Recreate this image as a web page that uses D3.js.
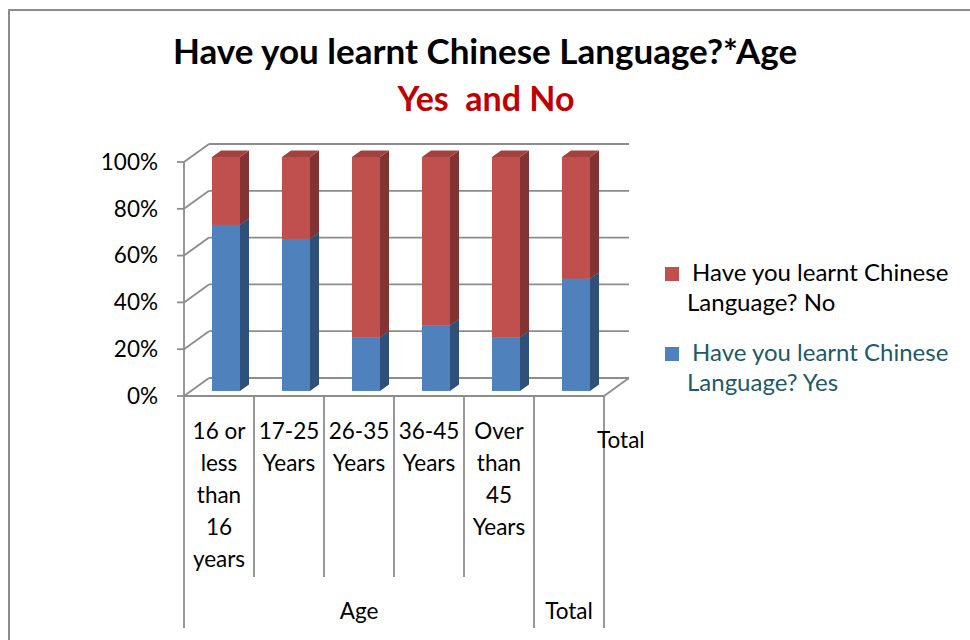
<!DOCTYPE html>
<html>
<head>
<meta charset="utf-8">
<script src="https://cdn.jsdelivr.net/npm/d3@7"></script>
<style>
  html, body { margin: 0; padding: 0; background: #ffffff; }
  svg { display: block; font-family: Lato, "Open Sans", sans-serif; }
</style>
</head>
<body>
<svg id="chart" width="970" height="640"></svg>
<script>
// Categories (lines of each wrapped label) and their group
const categories = ["16 or less than 16 years", "17-25 Years", "26-35 Years", "36-45 Years", "Over than 45 Years", "Total"];
const categoryLines = [["16 or", "less", "than", "16", "years"], ["17-25", "Years"], ["26-35", "Years"], ["36-45", "Years"], ["Over", "than", "45", "Years"], []];
const groups = [{ name: "Age", from: 0, to: 4 }, { name: "Total", from: 5, to: 5 }];

// Percent of respondents per age group
const yesValues = [71, 65, 23, 28, 23, 48];
const noValues = [29, 35, 77, 72, 77, 52];
const seriesNames = ["Have you learnt Chinese Language? Yes", "Have you learnt Chinese Language? No"];
const tickValues = [0, 20, 40, 60, 80, 100];

const svg = d3.select("#chart");
const FS = 22.5;   // axis and category label size
const LFS = 24;    // legend label size

// Outer frame
svg.append("rect").attr("x", 9).attr("y", 10).attr("width", 980).attr("height", 660)
  .attr("fill", "none").attr("stroke", "#8c8c8c").attr("stroke-width", 2);

// Titles
svg.append("text").attr("x", 485).attr("y", 64).attr("text-anchor", "middle")
  .attr("font-weight", "bold").attr("font-size", 35).attr("fill", "#000")
  .text("Have you learnt Chinese Language?*Age");
svg.append("text").attr("x", 486).attr("y", 111).attr("text-anchor", "middle")
  .attr("font-weight", "bold").attr("font-size", 34).attr("fill", "#c00000")
  .style("white-space", "pre").attr("xml:space", "preserve")
  .text("Yes  and No");

// Scales
const x = d3.scaleBand().domain(d3.range(categories.length)).range([184, 604]);
const y = d3.scaleLinear().domain([0, 100]).range([396, 162]);
const DX = 25, DY = -18;             // full depth offset of the 3D floor/walls
const dFront = 0.28, dBack = 0.64;   // bar depth span (fraction of full depth)
const barW = 28;
const grid = "#8c8c8c";

const P = (px, py, d) => [px + DX * d, py + DY * d];
const poly = pts => pts.map(p => p.join(",")).join(" ");

const g = svg.append("g");

// Back wall gridlines and left wall diagonals
tickValues.forEach(t => {
  const yy = y(t);
  const b0 = P(x.range()[0], yy, 1), b1 = P(x.range()[1], yy, 1);
  g.append("line").attr("x1", b0[0]).attr("y1", b0[1]).attr("x2", b1[0]).attr("y2", b1[1])
    .attr("stroke", grid).attr("stroke-width", 1.8);
  g.append("line").attr("x1", x.range()[0]).attr("y1", yy).attr("x2", b0[0]).attr("y2", b0[1])
    .attr("stroke", grid).attr("stroke-width", 1.8);
  g.append("line").attr("x1", x.range()[0] - 7).attr("y1", yy).attr("x2", x.range()[0]).attr("y2", yy)
    .attr("stroke", grid).attr("stroke-width", 1.8);
  g.append("text").attr("x", 158).attr("y", yy + 2).attr("text-anchor", "end")
    .attr("dominant-baseline", "middle").attr("font-size", FS).attr("fill", "#000")
    .text(t + "%");
});

// Floor right edge and vertical axis
{
  const fr = [x.range()[1], y(0)], br = P(x.range()[1], y(0), 1);
  g.append("line").attr("x1", fr[0]).attr("y1", fr[1]).attr("x2", br[0]).attr("y2", br[1])
    .attr("stroke", grid).attr("stroke-width", 1.8);
  g.append("line").attr("x1", x.range()[0]).attr("y1", y(100)).attr("x2", x.range()[0]).attr("y2", y(0))
    .attr("stroke", grid).attr("stroke-width", 1.8);
}

// Stacked 3D bars
const colors = {
  yes: { front: "#4f81bd", side: "#2f5078", top: "#3e6699" },
  no: { front: "#c0504d", side: "#833432", top: "#a3413e" }
};
const stacks = categories.map((c, i) => [
  { key: "yes", lo: 0, hi: yesValues[i] },
  { key: "no", lo: yesValues[i], hi: yesValues[i] + noValues[i] }
]);

stacks.forEach((segs, i) => {
  const cx = x(i) + x.bandwidth() / 2;
  const x0 = cx - barW / 2, x1 = cx + barW / 2;
  segs.forEach(s => {
    const c = colors[s.key];
    const yl = y(s.lo), yh = y(s.hi);
    // side face
    g.append("polygon").attr("fill", c.side).attr("points", poly([
      P(x1, yl, dFront), P(x1, yl, dBack), P(x1, yh, dBack), P(x1, yh, dFront)]));
    // top face
    g.append("polygon").attr("fill", c.top).attr("points", poly([
      P(x0, yh, dFront), P(x1, yh, dFront), P(x1, yh, dBack), P(x0, yh, dBack)]));
    // front face
    const f = P(x0, yh, dFront);
    g.append("rect").attr("x", f[0]).attr("y", f[1]).attr("width", barW).attr("height", yl - yh)
      .attr("fill", c.front);
  });
});

// Floor front edge (category axis) and category dividers
g.append("line").attr("x1", x.range()[0]).attr("y1", y(0)).attr("x2", x.range()[1]).attr("y2", y(0))
  .attr("stroke", grid).attr("stroke-width", 1.8);

const levelTop = y(0), level1 = 577, level2 = 628;
const groupEdges = new Set();
groups.forEach(gr => { groupEdges.add(gr.from); groupEdges.add(gr.to + 1); });
d3.range(categories.length + 1).forEach(k => {
  const xx = k < categories.length ? x(k) : x.range()[1];
  g.append("line").attr("x1", xx).attr("y1", levelTop).attr("x2", xx)
    .attr("y2", groupEdges.has(k) ? level2 : level1)
    .attr("stroke", grid).attr("stroke-width", 1.8);
});

// Category labels
categoryLines.forEach((lines, i) => {
  const cx = x(i) + x.bandwidth() / 2;
  lines.forEach((ln, j) => {
    g.append("text").attr("x", cx).attr("y", 433 + j * 32).attr("text-anchor", "middle")
      .attr("dominant-baseline", "middle").attr("font-size", FS).attr("fill", "#000").text(ln);
  });
});
g.append("text").attr("x", 597).attr("y", 442).attr("dominant-baseline", "middle")
  .attr("font-size", FS).attr("fill", "#000").text(categories[5]);

// Group labels
groups.forEach(gr => {
  const a = x(gr.from), b = gr.to + 1 < categories.length ? x(gr.to + 1) : x.range()[1];
  g.append("text").attr("x", (a + b) / 2).attr("y", 613).attr("text-anchor", "middle")
    .attr("dominant-baseline", "middle").attr("font-size", FS).attr("fill", "#000").text(gr.name);
});

// Legend
const legend = [
  { name: seriesNames[1], color: colors.no.front, text: "#000000", y: 267 },
  { name: seriesNames[0], color: colors.yes.front, text: "#215968", y: 347 }
];
legend.forEach(l => {
  svg.append("rect").attr("x", 665).attr("y", l.y).attr("width", 14).attr("height", 14).attr("fill", l.color);
  const split = l.name.indexOf("Language");
  svg.append("text").attr("x", 692).attr("y", l.y + 8).attr("dominant-baseline", "middle")
    .attr("font-size", LFS).attr("fill", l.text).text(l.name.slice(0, split).trim());
  svg.append("text").attr("x", 687).attr("y", l.y + 38).attr("dominant-baseline", "middle")
    .attr("font-size", LFS).attr("fill", l.text).text(l.name.slice(split));
});
</script>
</body>
</html>
